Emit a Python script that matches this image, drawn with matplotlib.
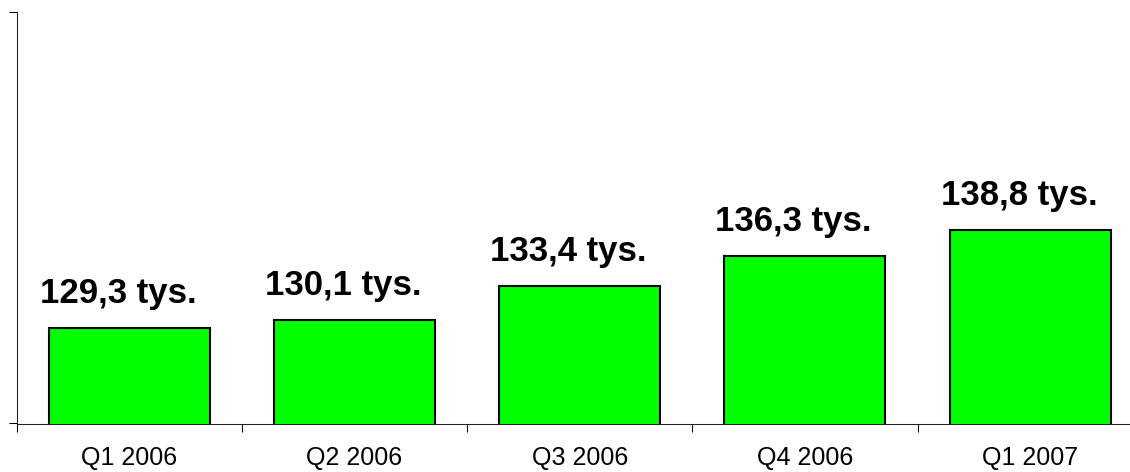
import matplotlib.pyplot as plt
import numpy as np

quarters = ["Q1 2006", "Q2 2006", "Q3 2006", "Q4 2006", "Q1 2007"]
values = [129.3, 130.1, 133.4, 136.3, 138.8]
labels = ["129,3 tys.", "130,1 tys.", "133,4 tys.", "136,3 tys.", "138,8 tys."]

plt.rcParams['font.family'] = ['Liberation Sans', 'DejaVu Sans']

fig = plt.figure(figsize=(11.3, 4.72), dpi=100)
ax = fig.add_axes([16.5 / 1130, 48.5 / 472, 1126.25 / 1130, 411.5 / 472])

x = np.arange(len(quarters))
ax.bar(x, values, width=0.715, color="#00ff00", edgecolor="black",
       linewidth=1.5)

for xi, v, lab in zip(x, values, labels):
    ax.annotate(lab, (xi - 0.05, v), xytext=(0, 18), textcoords="offset points",
                ha="center", va="baseline", fontsize=25, fontweight="bold")

ax.set_xlim(-0.5, len(quarters) - 0.5)
ax.set_ylim(120, 160)

ax.set_xticks(x, quarters, fontsize=18)
ax.tick_params(axis="x", which="major", length=0, pad=16.5)
ax.set_xticks(x - 0.5, minor=True)
ax.tick_params(axis="x", which="minor", length=6, width=0.75, direction="out")

ax.set_yticks([120, 160], ["", ""])
ax.tick_params(axis="y", length=6, width=0.75, direction="out")

for side in ["top", "right"]:
    ax.spines[side].set_visible(False)
for side in ["left", "bottom"]:
    ax.spines[side].set_linewidth(0.75)
    ax.spines[side].set_color("#222222")

fig.savefig("out.png", dpi=100)
